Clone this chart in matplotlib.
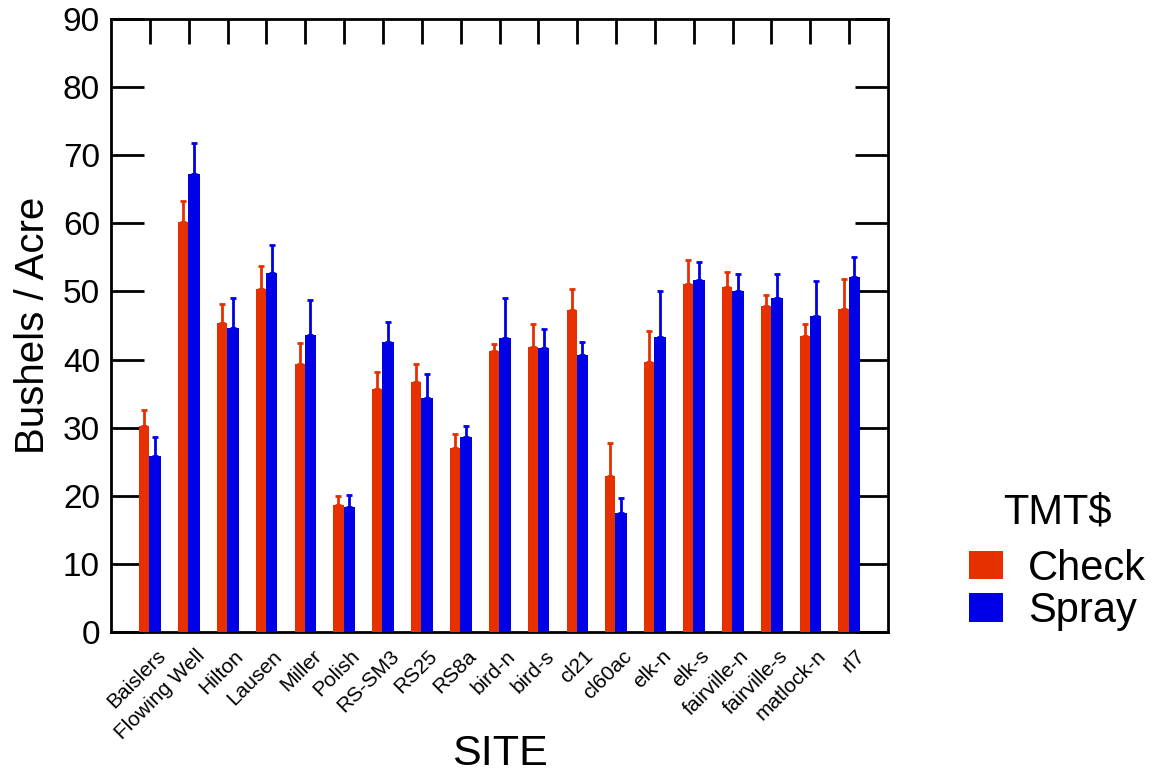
import matplotlib
matplotlib.use("Agg")
import matplotlib.pyplot as plt
import matplotlib.transforms as mtransforms
import numpy as np

plt.rcParams['font.family'] = ['Liberation Sans', 'DejaVu Sans']

sites = ["Baislers", "Flowing Well", "Hilton", "Lausen", "Miller", "Polish",
         "RS-SM3", "RS25", "RS8a", "bird-n", "bird-s", "cl21", "cl60ac",
         "elk-n", "elk-s", "fairville-n", "fairville-s", "matlock-n", "rl7"]

check_mean = [30.3, 60.2, 45.4, 50.3, 39.4, 18.6, 35.7, 36.7, 27.0, 41.2,
              41.8, 47.3, 22.9, 39.6, 51.1, 50.6, 47.9, 43.5, 47.4]
check_upper = [32.6, 63.3, 48.2, 53.8, 42.4, 20.0, 38.1, 39.4, 29.0, 42.3,
               45.2, 50.4, 27.8, 44.2, 54.6, 52.9, 49.5, 45.2, 51.8]
spray_mean = [25.9, 67.2, 44.6, 52.7, 43.6, 18.3, 42.6, 34.3, 28.7, 43.1,
              41.7, 40.6, 17.4, 43.3, 51.7, 50.1, 49.0, 46.4, 52.1]
spray_upper = [28.7, 71.8, 49.0, 56.8, 48.8, 20.1, 45.5, 37.9, 30.3, 49.1,
               44.5, 42.6, 19.7, 50.0, 54.3, 52.5, 52.5, 51.6, 55.1]

groups = ["Check", "Spray"]
colors = ["#E63000", "#0000E6"]
yticks = [0, 10, 20, 30, 40, 50, 60, 70, 80, 90]

fig = plt.figure(figsize=(11.52, 7.76), dpi=100)
ax = fig.add_axes([111/1152, 1 - 632/776, (888-111)/1152, (632-19)/776])

x = np.arange(len(sites))
cm = np.array(check_mean); cu = np.array(check_upper)
sm = np.array(spray_mean); su = np.array(spray_upper)

xr = x - 0.145
xb = x + 0.135
ax.bar(xr, cm, width=0.26, color=colors[0], zorder=3, label=groups[0])
ax.bar(xb, sm, width=0.30, color=colors[1], zorder=3, label=groups[1])
ax.errorbar(xr, cm, yerr=[np.zeros_like(cm), cu - cm], fmt='none',
            ecolor=colors[0], elinewidth=2, capsize=2, capthick=2, zorder=3)
ax.errorbar(xb, sm, yerr=[np.zeros_like(sm), su - sm], fmt='none',
            ecolor=colors[1], elinewidth=2, capsize=2, capthick=2, zorder=3)

ax.set_xlim(-1, len(sites))
ax.set_ylim(0, 90)
ax.set_yticks(yticks)
ax.set_yticklabels([str(v) for v in yticks], fontsize=24)
ax.set_xticks(x)
ax.tick_params(axis='x', labelbottom=False)

# category labels, rotated 45 degrees, anchored right of each tick
lab_tr = ax.get_xaxis_transform() + mtransforms.ScaledTranslation(
    13/100, -21/100, fig.dpi_scale_trans)
for xi, name in zip(x, sites):
    ax.text(xi, 0, name, transform=lab_tr, fontsize=15, rotation=45,
            ha='right', va='center', rotation_mode='anchor', clip_on=False)

ax.tick_params(axis='y', direction='in', length=24, width=2, left=True,
               right=True, pad=8)
ax.tick_params(axis='x', direction='in', length=18, width=2, top=True,
               bottom=True)
for s in ax.spines.values():
    s.set_linewidth(2)

ax.set_ylabel("Bushels / Acre", fontsize=29, labelpad=8)
ax.set_xlabel("SITE", fontsize=31)
ax.xaxis.set_label_coords(0.5, -0.166)

leg = fig.legend(loc='upper left', bbox_to_anchor=(969/1152, 1 - 492/776),
                 fontsize=30, title="TMT$", title_fontsize=30, frameon=False,
                 handlelength=0.82, handleheight=0.67, handletextpad=0.6,
                 labelspacing=0.06, borderpad=0, borderaxespad=0)
leg._legend_box.sep = 12

fig.savefig("out.png", dpi=100)
